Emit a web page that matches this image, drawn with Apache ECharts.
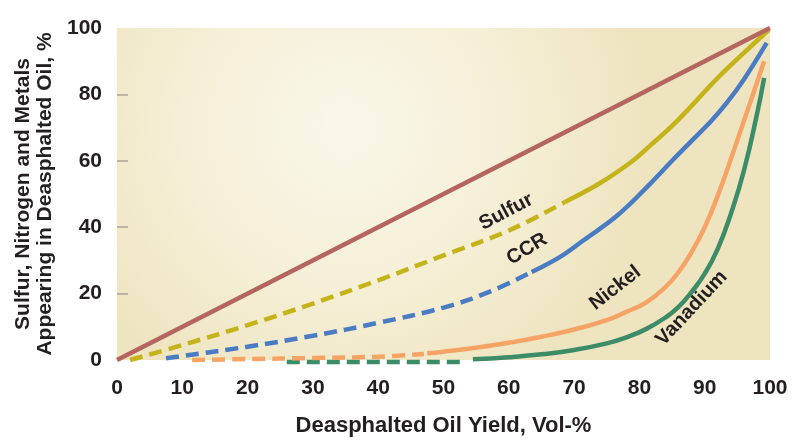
<!DOCTYPE html>
<html>
<head>
<meta charset="utf-8">
<script src="https://cdn.jsdelivr.net/npm/echarts@6/dist/echarts.min.js"></script>
<style>
  html, body { margin: 0; padding: 0; background: #fff; }
  #main { width: 795px; height: 440px; }
</style>
</head>
<body>
<div id="main"></div>
<script>
// values (x = DAO yield vol-%, y = % appearing in DAO)
var totalX = [0, 100];
var totalY = [0, 100];

var sulfurDashX = [2, 10, 20, 30, 40, 50, 60, 68.6];
var sulfurDashY = [0, 4.5, 10.5, 17, 24, 31.5, 39, 47.6];
var sulfurX = [68.6, 74, 79, 81.6, 85, 88.2, 92, 96, 99.8];
var sulfurY = [47.6, 53.3, 60, 64.5, 70.5, 77, 85, 92.5, 99.4];

var ccrDashX = [7.5, 10, 20, 30, 40, 50, 57, 63.5];
var ccrDashY = [0.5, 1.2, 4, 7.3, 11.2, 15.8, 20.5, 26.5];
var ccrX = [63.5, 67.8, 71.4, 76.6, 81.6, 85, 88, 91, 93.4, 96, 99.5];
var ccrY = [26.5, 31, 36, 43.5, 53, 60, 66, 72, 77.5, 84.5, 95.5];

var nickelDashX = [11.5, 20, 30, 40, 47];
var nickelDashY = [0, 0.3, 0.6, 1, 1.8];
var nickelX = [47.5, 50, 55, 60, 65, 70, 75, 78, 81, 84, 86, 88, 90, 92, 94, 96, 98, 99.1];
var nickelY = [2, 2.5, 3.7, 5.2, 7, 9.2, 12, 14.5, 17.3, 22, 26.5, 32.5, 40, 49.5, 60.5, 72, 83.5, 90];

var vanadiumDashX = [26, 53];
var vanadiumDashY = [-0.6, -0.6];
var vanadiumX = [54.5, 60, 65, 70, 75, 78, 81, 84, 86, 88, 90, 92, 94, 96, 98, 99.1];
var vanadiumY = [0.2, 0.8, 1.7, 3, 5, 6.8, 9.3, 12.8, 16, 20.5, 26, 33.5, 44, 57, 74, 85];

var xTicks = [0, 10, 20, 30, 40, 50, 60, 70, 80, 90, 100];
var yTicks = [0, 20, 40, 60, 80, 100];

// curve labels: name, anchor x, anchor y, angle (deg)
var labelNames = ['Sulfur', 'CCR', 'Nickel', 'Vanadium'];
var labelX = [59.6, 62.8, 76.3, 88.0];
var labelY = [44.6, 33.4, 21.7, 15.6];
var labelAngle = [28, 31, 38, 47];

var FONT = '"Liberation Sans", Arial, sans-serif';

function pairs(xs, ys) {
  return xs.map(function (x, i) { return [x, ys[i]]; });
}

function line(name, xs, ys, color, dashed, smooth) {
  return {
    name: name,
    type: 'line',
    data: pairs(xs, ys),
    showSymbol: false,
    smooth: smooth,
    clip: false,
    silent: true,
    lineStyle: { color: color, width: 4.5, type: dashed ? [13, 7] : 'solid', cap: 'butt' }
  };
}

var chart = echarts.init(document.getElementById('main'));

var option = {
  animation: false,
  grid: {
    left: 117, right: 25, top: 28, bottom: 80,
    outerBoundsMode: 'none',
    containLabel: false,
    show: true,
    borderWidth: 0,
    backgroundColor: {
      type: 'radial', x: 0.35, y: 0.3, r: 0.9,
      colorStops: [
        { offset: 0, color: '#faf7ea' },
        { offset: 0.55, color: '#f5efd6' },
        { offset: 1, color: '#eee4c0' }
      ]
    }
  },
  xAxis: {
    type: 'value', min: 0, max: 100, interval: 10,
    name: 'Deasphalted Oil Yield, Vol-%',
    nameLocation: 'middle', nameGap: 55,
    nameTextStyle: { fontFamily: FONT, fontWeight: 'bold', fontSize: 22, color: '#231f20' },
    axisLine: { show: false },
    axisTick: { show: false },
    splitLine: { show: false },
    axisLabel: {
      customValues: xTicks,
      margin: 18, fontFamily: FONT, fontWeight: 'bold', fontSize: 21, color: '#231f20'
    }
  },
  yAxis: {
    type: 'value', min: 0, max: 100, interval: 20,
    name: 'Sulfur, Nitrogen and Metals\nAppearing in Deasphalted Oil, %',
    nameLocation: 'middle', nameRotate: 90, nameGap: 60,
    nameTextStyle: { fontFamily: FONT, fontWeight: 'bold', fontSize: 21, lineHeight: 22, color: '#231f20' },
    axisLine: { show: false },
    axisTick: { show: true, inside: true, length: 11, customValues: [20, 40, 60, 80], lineStyle: { color: '#a8a496', width: 1.5 } },
    splitLine: { show: false },
    axisLabel: {
      customValues: yTicks,
      margin: 15, fontFamily: FONT, fontWeight: 'bold', fontSize: 21, color: '#231f20'
    }
  },
  series: [
    line('Vanadium dash', vanadiumDashX, vanadiumDashY, '#3d8c68', true, false),
    line('Vanadium', vanadiumX, vanadiumY, '#3d8c68', false, 0.5),
    line('Nickel dash', nickelDashX, nickelDashY, '#f6a466', true, 0.4),
    line('Nickel', nickelX, nickelY, '#f6a466', false, 0.5),
    line('CCR dash', ccrDashX, ccrDashY, '#4a7cc4', true, 0.4),
    line('CCR', ccrX, ccrY, '#4a7cc4', false, 0.4),
    line('Sulfur dash', sulfurDashX, sulfurDashY, '#c4b41a', true, 0.4),
    line('Sulfur', sulfurX, sulfurY, '#c4b41a', false, 0.4),
    line('Total', totalX, totalY, '#b5655f', false, false)
  ]
};

chart.setOption(option);

// rotated curve labels placed at data coordinates
var texts = labelNames.map(function (name, i) {
  var p = chart.convertToPixel({ gridIndex: 0 }, [labelX[i], labelY[i]]);
  return {
    type: 'text',
    x: p[0], y: p[1],
    rotation: labelAngle[i] * Math.PI / 180,
    silent: true,
    style: {
      text: name,
      fontFamily: FONT, fontWeight: 'bold', fontSize: 20,
      fill: '#231f20', align: 'center', verticalAlign: 'middle'
    }
  };
});
chart.setOption({ graphic: texts });
</script>
</body>
</html>
